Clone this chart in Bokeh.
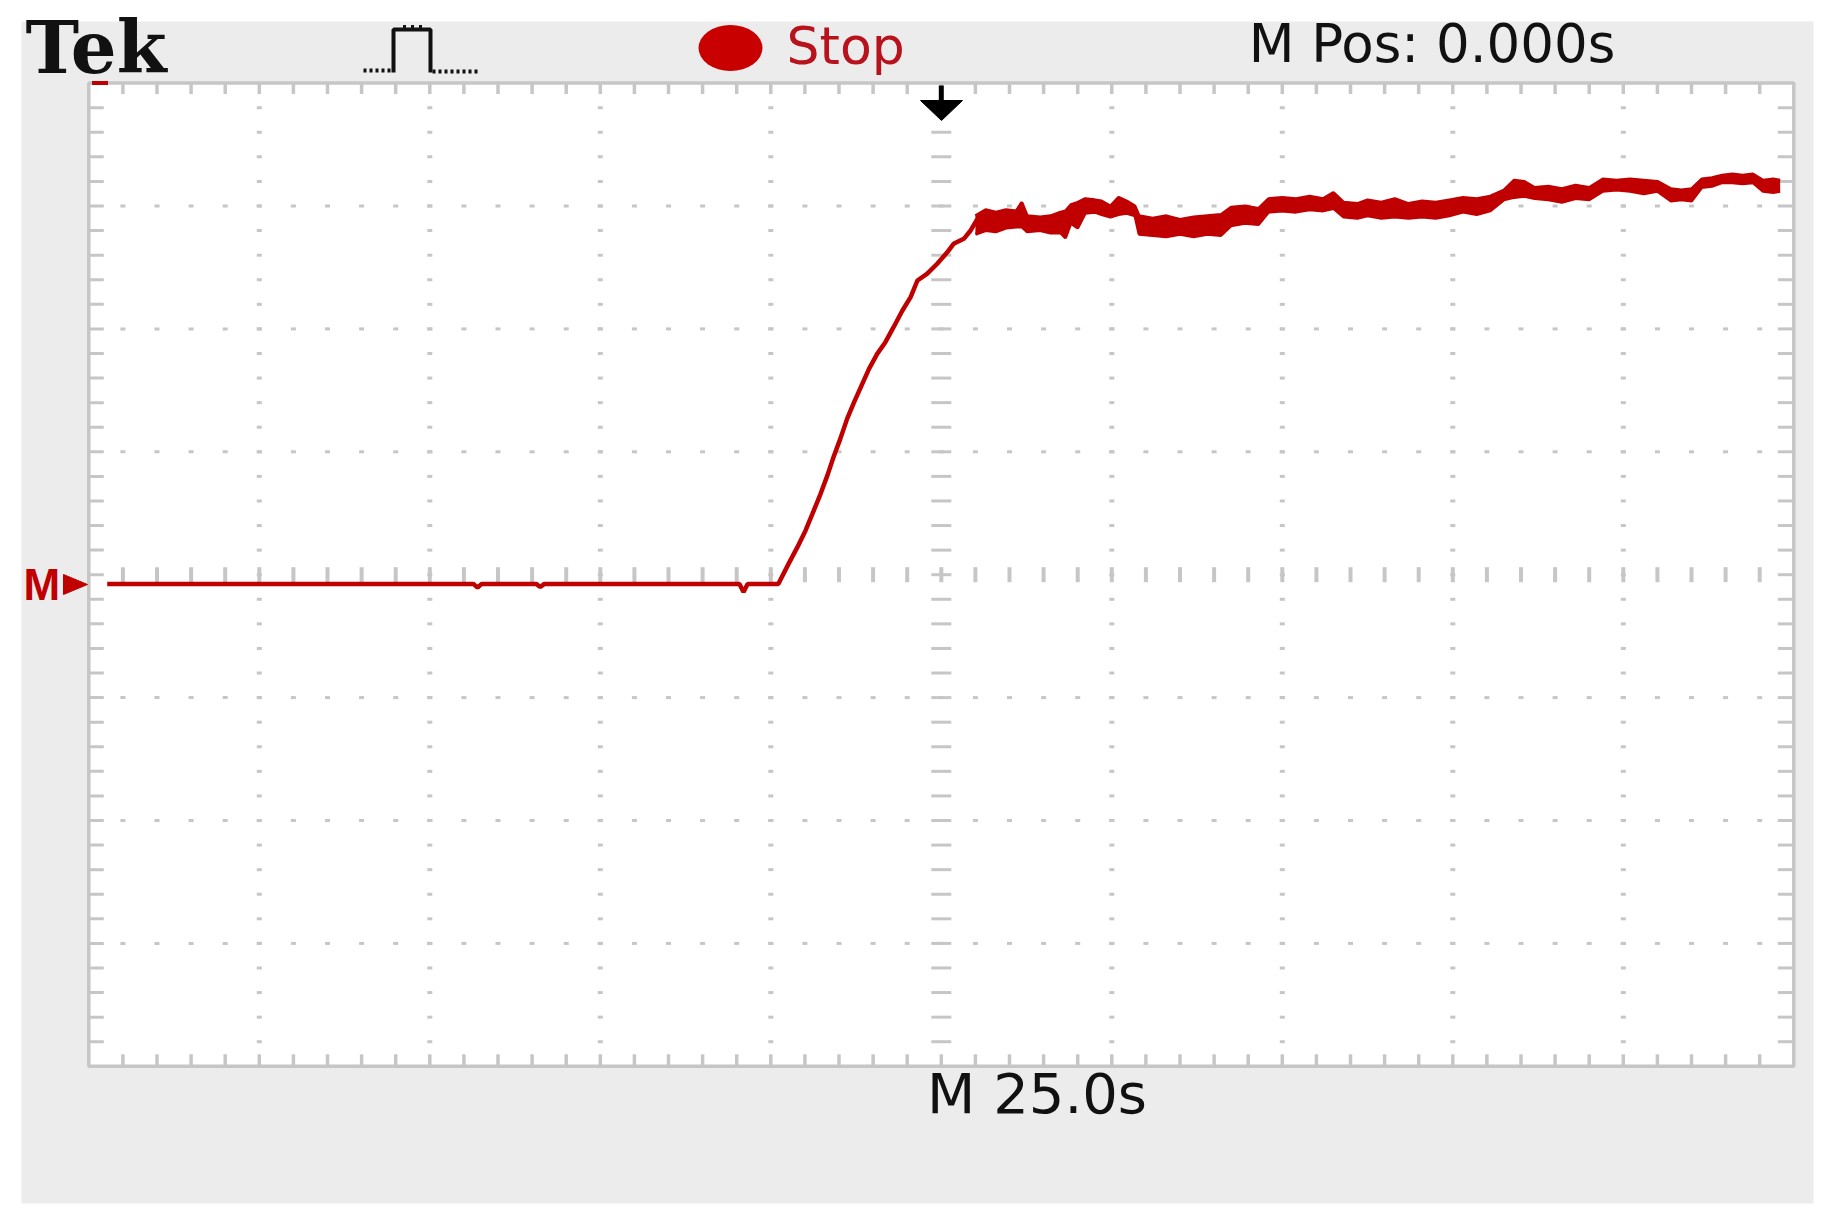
import numpy as np
from bokeh.plotting import figure
from bokeh.models import Range1d, Label
from bokeh.embed import file_html
from bokeh.resources import INLINE

# ---------------- data ----------------
SEC_PER_DIV = 25.0          # "M 25.0s"
N_DIV_X, N_DIV_Y = 10, 8

# flat part before the step (time in s, value in divisions)
t_flat = [-122.3, -68.6, -68.0, -67.4, -59.4, -58.8, -58.2, -29.6, -29.0, -28.4]
v_flat = [-0.075, -0.075, -0.105, -0.075, -0.075, -0.100, -0.075, -0.075, -0.140, -0.075]

# rising edge
t_rise = [-23.9, -22.4, -21.1, -19.9, -18.9, -17.7, -16.7, -15.8, -14.8, -13.8, -12.8,
          -11.8, -10.6, -9.4, -8.2, -7.0, -5.7, -4.5, -3.5, -2.1, -0.6, 0.9, 1.8, 3.3,
          4.3, 5.3]
v_rise = [-0.075, 0.088, 0.224, 0.360, 0.495, 0.658, 0.808, 0.957, 1.107, 1.270, 1.402,
          1.526, 1.675, 1.797, 1.892, 2.014, 2.150, 2.258, 2.394, 2.448, 2.530, 2.625,
          2.692, 2.733, 2.801, 2.896]

# noisy plateau: lower / upper envelope of the trace
t_band = [5.0, 6.5, 8.0, 9.5, 11.0, 11.8, 12.6, 14.5, 16.0, 17.5, 18.2, 19.0, 20.0, 21.1,
          22.5, 23.5, 24.8, 26.0, 27.2, 28.4, 29.0, 31.0, 33.0, 35.0, 37.0, 39.0, 41.0,
          42.5, 44.5, 46.5, 48.0, 50.0, 52.0, 54.0, 56.0, 57.5, 59.0, 61.0, 62.5, 64.5,
          66.5, 68.5, 70.5, 72.5, 74.5, 76.5, 78.5, 80.5, 82.5, 84.0, 85.5, 87.0, 89.0,
          91.0, 93.0, 95.0, 97.0, 99.0, 101.0, 103.0, 105.0, 107.0, 108.5, 110.0, 111.5,
          113.0, 114.5, 116.0, 117.5, 119.0, 120.5, 122.0, 123.0]
v_lo = [2.77, 2.80, 2.79, 2.82, 2.83, 2.83, 2.79, 2.80, 2.78, 2.78, 2.74, 2.86, 2.82, 2.94,
        2.95, 2.93, 2.91, 2.93, 2.94, 2.92, 2.77, 2.76, 2.75, 2.77, 2.75, 2.77, 2.76,
        2.84, 2.86, 2.85, 2.95, 2.96, 2.95, 2.97, 2.96, 2.98, 2.91, 2.90, 2.92, 2.90,
        2.91, 2.90, 2.91, 2.90, 2.92, 2.95, 2.93, 2.96, 3.05, 3.07, 3.08, 3.06, 3.05,
        3.03, 3.06, 3.05, 3.12, 3.13, 3.12, 3.10, 3.12, 3.04, 3.05, 3.04, 3.15,
        3.16, 3.19, 3.19, 3.18, 3.19, 3.12, 3.11, 3.12]
v_hi = [2.92, 2.97, 2.95, 2.97, 2.96, 3.03, 2.92, 2.91, 2.92, 2.95, 2.96, 3.01, 3.03, 3.06,
        3.05, 3.04, 3.00, 3.07, 3.04, 3.00, 2.92, 2.90, 2.92, 2.89, 2.91, 2.92, 2.93,
        2.99, 3.00, 2.98, 3.06, 3.07, 3.06, 3.08, 3.06, 3.11, 3.03, 3.02, 3.05, 3.03,
        3.06, 3.02, 3.04, 3.03, 3.05, 3.07, 3.06, 3.08, 3.13, 3.21, 3.20, 3.15, 3.16,
        3.14, 3.17, 3.15, 3.22, 3.21, 3.22, 3.21, 3.20, 3.14, 3.13, 3.14, 3.22,
        3.23, 3.25, 3.26, 3.25, 3.26, 3.21, 3.22, 3.21]

# ---------------- layout helpers (reference pixel -> data units) ----------------
PX_DIV_X, PX_DIV_Y = 170.5, 122.9
CX, CY = 940.8, 574.2
W, H = 1823, 1212


def tx(px):
    return (px - CX) / PX_DIV_X * SEC_PER_DIV


def vy(py):
    return (CY - py) / PX_DIV_Y


T_HALF = N_DIV_X / 2 * SEC_PER_DIV   # 125 s
V_HALF = N_DIV_Y / 2                 # 4 div

p = figure(width=W, height=H,
           x_range=Range1d(tx(0), tx(W)), y_range=Range1d(vy(H), vy(0)),
           output_backend="svg", toolbar_location=None,
           x_axis_location=None, y_axis_location=None, min_border=0)
p.outline_line_color = None
p.background_fill_color = "white"
p.border_fill_color = "white"
p.grid.visible = False

# grey instrument panel and white screen
p.quad(left=tx(21), right=tx(1813), top=vy(21), bottom=vy(1203),
       fill_color="#ececec", line_color=None)
p.quad(left=-T_HALF, right=T_HALF, top=V_HALF, bottom=-V_HALF,
       fill_color="white", line_color="#c6c6c6", line_width=3.5)

GC = "#c6c6c6"
ticks_t = np.arange(1, N_DIV_X * 5) * (SEC_PER_DIV / 5) - T_HALF
ticks_v = np.round(np.arange(1, N_DIV_Y * 5) * 0.2 - V_HALF, 6)

# edge ticks
p.rect(x=ticks_t, y=V_HALF - 5.5 / PX_DIV_Y, width=3.5, height=11,
       width_units="screen", height_units="screen", fill_color=GC, line_color=None)
p.rect(x=ticks_t, y=-V_HALF + 6 / PX_DIV_Y, width=3.5, height=12,
       width_units="screen", height_units="screen", fill_color=GC, line_color=None)
p.rect(x=-T_HALF + 7.5 / PX_DIV_X * SEC_PER_DIV, y=ticks_v, width=15, height=3,
       width_units="screen", height_units="screen", fill_color=GC, line_color=None)
p.rect(x=T_HALF - 8 / PX_DIV_X * SEC_PER_DIV, y=ticks_v, width=16, height=3,
       width_units="screen", height_units="screen", fill_color=GC, line_color=None)

# dotted division lines
major_t = [k * SEC_PER_DIV for k in range(-4, 5) if k != 0]
major_v = [k for k in range(-3, 4) if k != 0]
dx, dy = [], []
for mt in major_t:
    dx += [mt] * len(ticks_v)
    dy += list(ticks_v)
for mv in major_v:
    dx += list(ticks_t)
    dy += [mv] * len(ticks_t)
p.rect(x=dx, y=dy, width=5, height=3, width_units="screen", height_units="screen",
       fill_color=GC, line_color=None)

# centre cross-hair
p.rect(x=0, y=ticks_v, width=20, height=3, width_units="screen", height_units="screen",
       fill_color=GC, line_color=None)
p.rect(x=ticks_t, y=0, width=4, height=15, width_units="screen", height_units="screen",
       fill_color=GC, line_color=None)

# ---------------- trace ----------------
RED = "#c00000"
p.line(x=t_flat + t_rise, y=v_flat + v_rise, line_color=RED, line_width=4.5)
p.varea(x=t_band, y1=v_lo, y2=v_hi, fill_color=RED)
p.line(x=t_band, y=v_lo, line_color=RED, line_width=3)
p.line(x=t_band, y=v_hi, line_color=RED, line_width=3)

# red record marker at the top-left of the screen
p.rect(x=tx(99.5), y=V_HALF, width=16, height=4, width_units="screen",
       height_units="screen", fill_color=RED, line_color=None)

# trigger arrow at M Pos 0.000 s
p.rect(x=0, y=vy(93), width=5, height=16, width_units="screen", height_units="screen",
       fill_color="black", line_color=None)
p.patch(x=[tx(920), tx(962), tx(941)], y=[vy(100), vy(100), vy(120)],
        fill_color="black", line_color="black")

# channel marker "M ▸"
p.patch(x=[tx(63), tx(63), tx(87)], y=[vy(574), vy(594), vy(584)],
        fill_color=RED, line_color=RED)


def label(text, px, baseline_py, size, **kw):
    # Bokeh draws Label text about 0.37 em lower than the requested baseline here
    p.add_layout(Label(x=tx(px), y=vy(baseline_py - 0.37 * size), text=text,
                       text_font_size=f"{size}px", text_baseline="alphabetic", **kw))


label("M", 23, 600, 44, text_font="Liberation Sans", text_font_style="bold",
      text_color=RED, text_align="left")

# header
label("Tek", 25, 74, 72, text_font="DejaVu Serif", text_font_style="bold",
      text_color="#111111", text_align="left")
# acquisition icon
p.line(x=[tx(393), tx(393), tx(430), tx(430)], y=[vy(72), vy(29), vy(29), vy(72)],
       line_color="#111111", line_width=4)
p.rect(x=[tx(404), tx(412), tx(420)], y=vy(26), width=3, height=3,
       width_units="screen", height_units="screen", fill_color="#111111", line_color=None)
p.line(x=[tx(363), tx(393)], y=[vy(70), vy(70)], line_color="#111111", line_width=4,
       line_dash="3 3")
p.line(x=[tx(432), tx(479)], y=[vy(71), vy(71)], line_color="#111111", line_width=4,
       line_dash="3 3")

p.ellipse(x=tx(730), y=vy(47.5), width=64, height=46, width_units="screen",
          height_units="screen", fill_color="#c80000", line_color=None)
label("Stop", 786, 65, 52, text_font="DejaVu Sans", text_color="#b8121c",
      text_align="left")
label("M Pos: 0.000s", 1431.5, 63, 53, text_font="DejaVu Sans", text_color="#111111",
      text_align="center")
label("M 25.0s", 1036.5, 1114, 56, text_font="DejaVu Sans", text_color="#111111",
      text_align="center")

open("out.html", "w").write(file_html(p, INLINE))
